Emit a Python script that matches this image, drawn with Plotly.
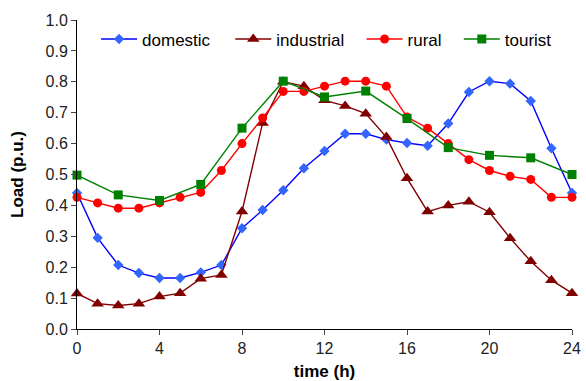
import plotly.graph_objects as go

hours = list(range(25))
domestic = [0.44, 0.295, 0.207, 0.181, 0.165, 0.165, 0.183, 0.207, 0.326, 0.385, 0.449, 0.52, 0.576,
            0.632, 0.632, 0.613, 0.602, 0.593, 0.665, 0.767, 0.802, 0.794, 0.738, 0.585, 0.44]
industrial = [0.115, 0.082, 0.076, 0.082, 0.105, 0.116, 0.163, 0.175, 0.38, 0.667, 0.80, 0.786, 0.74,
              0.722, 0.697, 0.621, 0.488, 0.38, 0.40, 0.412, 0.378, 0.294, 0.219, 0.158, 0.116]
rural = [0.426, 0.408, 0.391, 0.391, 0.408, 0.426, 0.442, 0.513, 0.60, 0.683, 0.769, 0.769, 0.786,
         0.802, 0.802, 0.786, 0.686, 0.65, 0.60, 0.548, 0.513, 0.494, 0.484, 0.426, 0.426]
tourist_hours = [0, 2, 4, 6, 8, 10, 12, 14, 16, 18, 20, 22, 24]
tourist = [0.498, 0.434, 0.416, 0.468, 0.65, 0.802, 0.751, 0.77, 0.681, 0.587, 0.562, 0.554, 0.50]

x_ticks = [0, 4, 8, 12, 16, 20, 24]
y_ticks = [round(i * 0.1, 1) for i in range(11)]

fig = go.Figure()
fig.add_trace(go.Scatter(x=hours, y=domestic, name="domestic", mode="lines+markers", legend="legend",
                         line=dict(color="#0000FF", width=1.4), cliponaxis=False,
                         marker=dict(symbol="diamond", size=8, color="#3366FF")))
fig.add_trace(go.Scatter(x=hours, y=industrial, name="industrial", mode="lines+markers", legend="legend2",
                         line=dict(color="#800000", width=1.4), cliponaxis=False,
                         marker=dict(symbol="triangle-up", size=11, color="#800000")))
fig.add_trace(go.Scatter(x=hours, y=rural, name="rural", mode="lines+markers", legend="legend3",
                         line=dict(color="#FF0000", width=1.4), cliponaxis=False,
                         marker=dict(symbol="circle", size=9, color="#FF0000")))
fig.add_trace(go.Scatter(x=tourist_hours, y=tourist, name="tourist", mode="lines+markers", legend="legend4",
                         line=dict(color="#008000", width=1.4), cliponaxis=False,
                         marker=dict(symbol="square", size=9, color="#008000")))
for tr in fig.data:
    tr.showlegend = True

def leg(xpos):
    return dict(orientation="h", x=xpos, y=0.937, xanchor="left", yanchor="middle",
                font=dict(size=17), bgcolor="rgba(0,0,0,0)", itemwidth=36)

fig.update_layout(
    width=586, height=381,
    showlegend=True,
    margin=dict(l=77, r=14, t=20, b=52),
    paper_bgcolor="white", plot_bgcolor="white",
    font=dict(family="Liberation Sans, Arial, sans-serif", color="black", size=16),
    legend=leg(0.0385), legend2=leg(0.3097), legend3=leg(0.5749), legend4=leg(0.7713),
    xaxis=dict(range=[0, 24], tickvals=x_ticks, ticks="outside", ticklen=5, automargin=False,
               showline=True, linecolor="black", linewidth=1, showgrid=False, zeroline=False,
               title=dict(text="<b>time (h)</b>", font=dict(size=17), standoff=9),
               tickfont=dict(size=16, color="#222222")),
    yaxis=dict(range=[0, 1.0], tickvals=y_ticks, tickformat=".1f", ticks="outside", ticklen=5,
               automargin=False,
               showline=True, linecolor="black", linewidth=1, showgrid=False, zeroline=False,
               title=dict(text="<b>Load (p.u.)</b>", font=dict(size=17), standoff=17),
               tickfont=dict(size=16, color="#222222")),
)

fig.write_html("out.html", config={"displayModeBar": False},
               post_script="document.body.style.margin='0';document.body.style.padding='0';")
